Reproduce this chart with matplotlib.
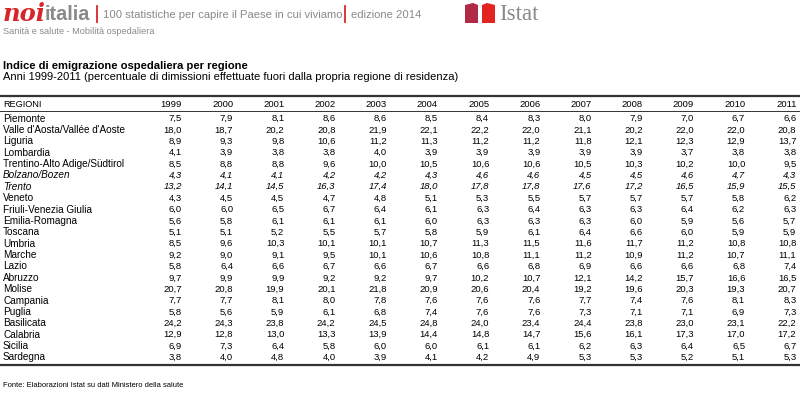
import matplotlib.pyplot as plt
from matplotlib.patches import Polygon

plt.rcParams['font.family'] = ['Liberation Sans', 'DejaVu Sans']

years = [1999, 2000, 2001, 2002, 2003, 2004, 2005, 2006, 2007, 2008, 2009, 2010, 2011]
regions = ["Piemonte", "Valle d'Aosta/Vallée d'Aoste", "Liguria", "Lombardia",
           "Trentino-Alto Adige/Südtirol", "Bolzano/Bozen", "Trento", "Veneto",
           "Friuli-Venezia Giulia", "Emilia-Romagna", "Toscana", "Umbria", "Marche",
           "Lazio", "Abruzzo", "Molise", "Campania", "Puglia", "Basilicata",
           "Calabria", "Sicilia", "Sardegna"]
italic_rows = ["Bolzano/Bozen", "Trento"]

piemonte = [7.5, 7.9, 8.1, 8.6, 8.6, 8.5, 8.4, 8.3, 8.0, 7.9, 7.0, 6.7, 6.6]
valle_aosta = [18.0, 18.7, 20.2, 20.8, 21.9, 22.1, 22.2, 22.0, 21.1, 20.2, 22.0, 22.0, 20.8]
liguria = [8.9, 9.3, 9.8, 10.6, 11.2, 11.3, 11.2, 11.2, 11.8, 12.1, 12.3, 12.9, 13.7]
lombardia = [4.1, 3.9, 3.8, 3.8, 4.0, 3.9, 3.9, 3.9, 3.9, 3.9, 3.7, 3.8, 3.8]
trentino = [8.5, 8.8, 8.8, 9.6, 10.0, 10.5, 10.6, 10.6, 10.5, 10.3, 10.2, 10.0, 9.5]
bolzano = [4.3, 4.1, 4.1, 4.2, 4.2, 4.3, 4.6, 4.6, 4.5, 4.5, 4.6, 4.7, 4.3]
trento = [13.2, 14.1, 14.5, 16.3, 17.4, 18.0, 17.8, 17.8, 17.6, 17.2, 16.5, 15.9, 15.5]
veneto = [4.3, 4.5, 4.5, 4.7, 4.8, 5.1, 5.3, 5.5, 5.7, 5.7, 5.7, 5.8, 6.2]
friuli = [6.0, 6.0, 6.5, 6.7, 6.4, 6.1, 6.3, 6.4, 6.3, 6.3, 6.4, 6.2, 6.3]
emilia = [5.6, 5.8, 6.1, 6.1, 6.1, 6.0, 6.3, 6.3, 6.3, 6.0, 5.9, 5.6, 5.7]
toscana = [5.1, 5.1, 5.2, 5.5, 5.7, 5.8, 5.9, 6.1, 6.4, 6.6, 6.0, 5.9, 5.9]
umbria = [8.5, 9.6, 10.3, 10.1, 10.1, 10.7, 11.3, 11.5, 11.6, 11.7, 11.2, 10.8, 10.8]
marche = [9.2, 9.0, 9.1, 9.5, 10.1, 10.6, 10.8, 11.1, 11.2, 10.9, 11.2, 10.7, 11.1]
lazio = [5.8, 6.4, 6.6, 6.7, 6.6, 6.7, 6.6, 6.8, 6.9, 6.6, 6.6, 6.8, 7.4]
abruzzo = [9.7, 9.9, 9.9, 9.2, 9.2, 9.7, 10.2, 10.7, 12.1, 14.2, 15.7, 16.6, 16.5]
molise = [20.7, 20.8, 19.9, 20.1, 21.8, 20.9, 20.6, 20.4, 19.2, 19.6, 20.3, 19.3, 20.7]
campania = [7.7, 7.7, 8.1, 8.0, 7.8, 7.6, 7.6, 7.6, 7.7, 7.4, 7.6, 8.1, 8.3]
puglia = [5.8, 5.6, 5.9, 6.1, 6.8, 7.4, 7.6, 7.6, 7.3, 7.1, 7.1, 6.9, 7.3]
basilicata = [24.2, 24.3, 23.8, 24.2, 24.5, 24.8, 24.0, 23.4, 24.4, 23.8, 23.0, 23.1, 22.2]
calabria = [12.9, 12.8, 13.0, 13.3, 13.9, 14.4, 14.8, 14.7, 15.6, 16.1, 17.3, 17.0, 17.2]
sicilia = [6.9, 7.3, 6.4, 5.8, 6.0, 6.0, 6.1, 6.1, 6.2, 6.3, 6.4, 6.5, 6.7]
sardegna = [3.8, 4.0, 4.8, 4.0, 3.9, 4.1, 4.2, 4.9, 5.3, 5.3, 5.2, 5.1, 5.3]

values = [piemonte, valle_aosta, liguria, lombardia, trentino, bolzano, trento,
          veneto, friuli, emilia, toscana, umbria, marche, lazio, abruzzo, molise,
          campania, puglia, basilicata, calabria, sicilia, sardegna]

fig = plt.figure(figsize=(8, 4.19), dpi=100)
ax = fig.add_axes([0, 0, 1, 1])
ax.set_xlim(0, 800)
ax.set_ylim(419, 0)
ax.axis('off')

gray = '#8a8a8a'
red = '#d7262b'

# header banner
ax.text(3, 14, 'noi', color=red, fontsize=17.5, fontweight='bold', style='italic',
        family='DejaVu Serif', va='center', ha='left')
ax.text(45, 14, 'italia', color=gray, fontsize=14.3, fontweight='bold', va='center', ha='left')
ax.plot([97, 97], [6, 22], color=red, lw=1.3)
ax.text(103, 15, '100 statistiche per capire il Paese in cui viviamo', color=gray,
        fontsize=8.1, va='center', ha='left')
ax.plot([345, 345], [6, 22], color=red, lw=1.3)
ax.text(351, 15, 'edizione 2014', color=gray, fontsize=8.1, va='center', ha='left')
ax.text(3, 32, 'Sanità e salute - Mobilità ospedaliera', color=gray, fontsize=6.6,
        va='center', ha='left')

# istat logo
ax.add_patch(Polygon([[465, 5], [473, 3], [478, 5], [478, 23], [465, 23]], closed=True,
                     color='#b02a45', lw=0))
ax.add_patch(Polygon([[482, 5], [487, 3], [495, 5], [495, 23], [482, 23]], closed=True,
                     color='#e3231f', lw=0))
ax.text(499, 14, 'Istat', color=gray, fontsize=16.5, family='Liberation Serif',
        va='center', ha='left')

# titles
ax.text(3, 66, 'Indice di emigrazione ospedaliera per regione', fontsize=8.1,
        fontweight='bold', va='center', ha='left')
ax.text(3, 77, 'Anni 1999-2011 (percentuale di dimissioni effettuate fuori dalla propria '
        'regione di residenza)', fontsize=8.0, va='center', ha='left')

# table
ax.plot([0, 800], [96, 96], color='#333333', lw=1.6)
ax.plot([0, 800], [111.5, 111.5], color='#333333', lw=0.7)
ax.plot([0, 800], [365, 365], color='#333333', lw=1.6)

col_right = 182
col_step = 51.2
fs = 6.8
fs_names = 7.2
ax.text(3, 104, 'REGIONI', fontsize=6.6, va='center', ha='left')
for j, y in enumerate(years):
    ax.text(col_right + j * col_step, 104, str(y), fontsize=fs, va='center', ha='right')

row_top = 118.5
row_step = 11.38
for i, name in enumerate(regions):
    yy = row_top + i * row_step
    st = 'italic' if name in italic_rows else 'normal'
    ax.text(3, yy, name, fontsize=fs_names, style=st, va='center', ha='left')
    for j, v in enumerate(values[i]):
        ax.text(col_right + j * col_step, yy, f'{v:.1f}'.replace('.', ','), fontsize=fs,
                style=st, va='center', ha='right')

ax.text(3, 385, 'Fonte: Elaborazioni Istat su dati Ministero della salute', fontsize=5.4,
        va='center', ha='left')

fig.savefig('out.png', dpi=100)
